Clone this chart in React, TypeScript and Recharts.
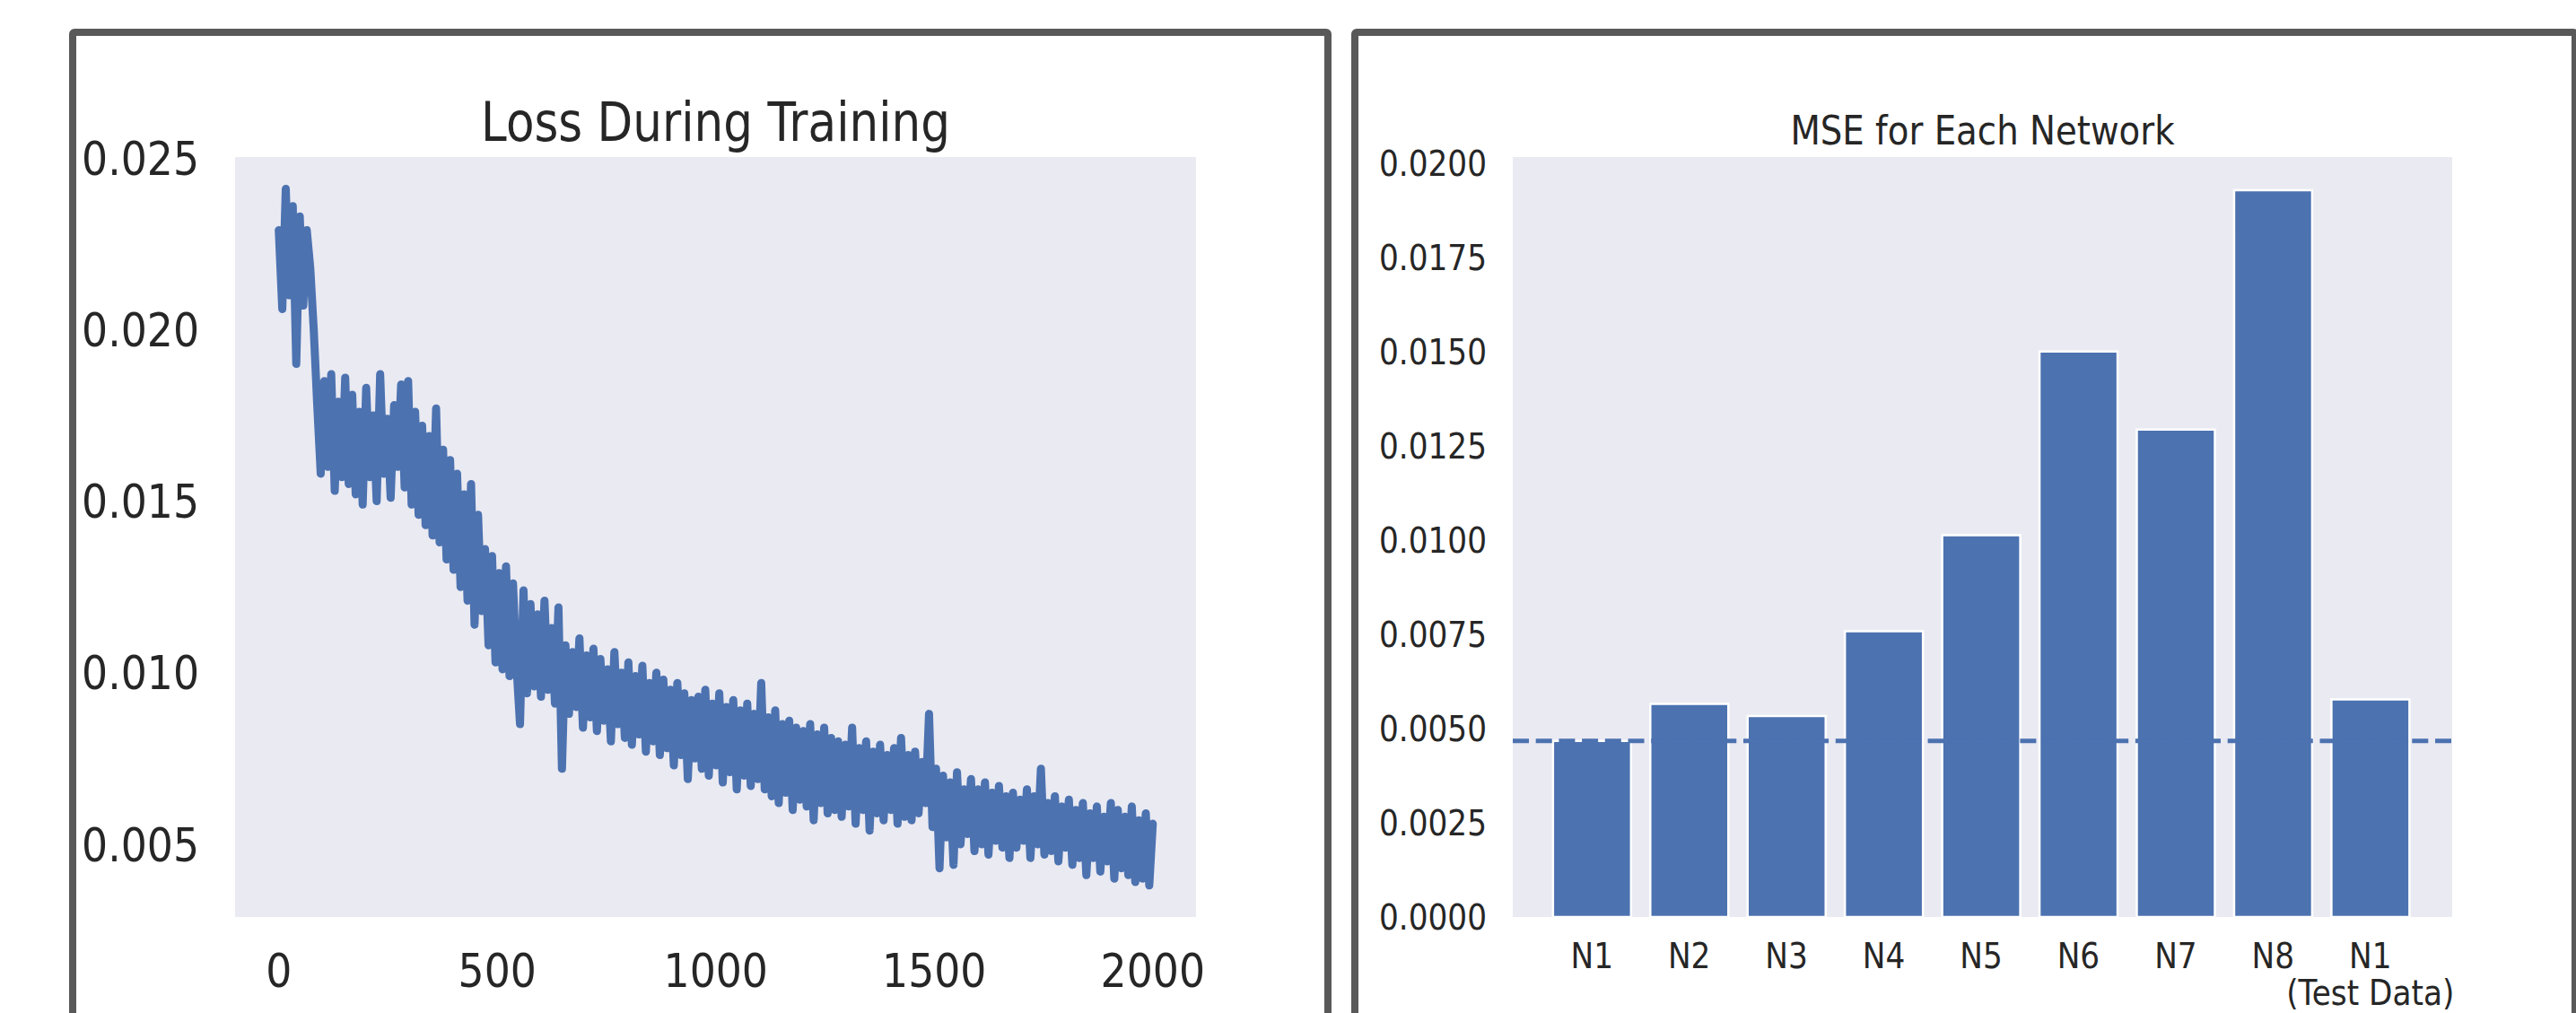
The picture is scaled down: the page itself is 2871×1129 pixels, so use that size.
import {
  LineChart,
  Line,
  BarChart,
  Bar,
  XAxis,
  YAxis,
  CartesianGrid,
  ReferenceLine,
} from "recharts";

// training loss, one value every LOSS_STEP iterations
const LOSS_STEP = 8;
const lossValues = [
  0.0229, 0.0206, 0.0241, 0.021, 0.0236, 0.019, 0.0233, 0.0207, 0.0229, 0.0218,
  0.02, 0.0178, 0.0158, 0.0185, 0.016, 0.0187, 0.0153, 0.0179, 0.0157, 0.0186,
  0.0155, 0.0181, 0.0152, 0.0176, 0.0149, 0.0183, 0.0157, 0.0175, 0.015, 0.0187,
  0.0158, 0.0174, 0.0151, 0.0178, 0.016, 0.0184, 0.0154, 0.0185, 0.0149, 0.0176,
  0.0146, 0.0172, 0.0143, 0.0169, 0.014, 0.0177, 0.0138, 0.0165, 0.0133, 0.0162,
  0.013, 0.0158, 0.0125, 0.0152, 0.0121, 0.0155, 0.0114, 0.0146, 0.0118, 0.0136,
  0.0108, 0.0134, 0.0103, 0.0129, 0.0101, 0.0131, 0.0099, 0.0126, 0.0102, 0.0085,
  0.0124, 0.0094, 0.012, 0.0096, 0.0117, 0.0093, 0.0121, 0.0095, 0.0113, 0.0091,
  0.0119, 0.0072, 0.0108, 0.0088, 0.0106, 0.009, 0.011, 0.0084, 0.0105, 0.0087,
  0.0107, 0.0083, 0.0104, 0.0086, 0.0101, 0.008, 0.0106, 0.0085, 0.01, 0.0081,
  0.0103, 0.0079, 0.0099, 0.0082, 0.0102, 0.0077, 0.0097, 0.008, 0.01, 0.0076,
  0.0098, 0.0078, 0.0095, 0.0073, 0.0097, 0.0076, 0.0094, 0.0069, 0.0092, 0.0075,
  0.0093, 0.0072, 0.0095, 0.007, 0.0091, 0.0073, 0.0094, 0.0068, 0.009, 0.0071,
  0.0092, 0.0066, 0.0089, 0.007, 0.0091, 0.0067, 0.0088, 0.0069, 0.0097, 0.0066,
  0.0087, 0.0064, 0.0089, 0.0062, 0.0085, 0.0065, 0.0086, 0.006, 0.0084, 0.0063,
  0.0083, 0.0061, 0.0085, 0.0057, 0.0082, 0.0062, 0.0084, 0.0059, 0.0081, 0.006,
  0.008, 0.0058, 0.0079, 0.0061, 0.0084, 0.0056, 0.0078, 0.006, 0.008, 0.0054,
  0.0077, 0.0059, 0.0079, 0.0057, 0.0076, 0.006, 0.0078, 0.0056, 0.0081, 0.0058,
  0.0076, 0.0057, 0.0077, 0.0059, 0.0074, 0.0062, 0.0088, 0.0055, 0.0072, 0.0043,
  0.007, 0.0052, 0.0068, 0.0044, 0.0071, 0.005, 0.0066, 0.0053, 0.0069, 0.0048,
  0.0066, 0.005, 0.0068, 0.0047, 0.0065, 0.0051, 0.0067, 0.0049, 0.0064, 0.0046,
  0.0065, 0.0049, 0.0063, 0.0051, 0.0066, 0.0046, 0.0064, 0.005, 0.0072, 0.0047,
  0.0062, 0.0048, 0.0064, 0.0045, 0.0061, 0.0049, 0.0063, 0.0044, 0.006, 0.0046,
  0.0062, 0.0041, 0.0059, 0.0046, 0.0061, 0.0042, 0.0058, 0.0045, 0.0062, 0.004,
  0.006, 0.0043, 0.0058, 0.0041, 0.0061, 0.0039, 0.0057, 0.004, 0.0059, 0.0038,
  0.0056,
];
const lossTicksX = [0, 500, 1000, 1500, 2000];
const lossTicksY = [0.005, 0.01, 0.015, 0.02, 0.025];

const networks = ["N1", "N2", "N3", "N4", "N5", "N6", "N7", "N8", "N1\n(Test Data)"];
const mseValues = [0.00467, 0.00565, 0.00533, 0.00758, 0.01013, 0.015, 0.01293, 0.01928, 0.00577];
const mseTicksY = [0, 0.0025, 0.005, 0.0075, 0.01, 0.0125, 0.015, 0.0175, 0.02];
const mseBaseline = 0.00467;

const BLUE = "#4C72B0";
const PLOT_BG = "#EAEAF2";
const TEXT = "#262626";
const FONT = "'DejaVu Sans', sans-serif";
const SQUEEZE = 0.88;

const lossData = lossValues.map((v, i) => ({ step: i * LOSS_STEP, loss: v }));
const mseData = networks.map((n, i) => ({ name: n, mse: mseValues[i] }));

function YTick(props: any) {
  const { y, payload, right, size, digits } = props;
  return (
    <text
      transform={`translate(${right},${y}) scale(${SQUEEZE},1)`}
      textAnchor="end"
      dy="0.36em"
      fontSize={size}
      fontFamily={FONT}
      fill={TEXT}
    >
      {Number(payload.value).toFixed(digits)}
    </text>
  );
}

function LossXTick(props: any) {
  const { x, payload } = props;
  return (
    <text
      transform={`translate(${x},1100) scale(${SQUEEZE},1)`}
      textAnchor="middle"
      fontSize={52}
      fontFamily={FONT}
      fill={TEXT}
    >
      {payload.value}
    </text>
  );
}

function NetTick(props: any) {
  const { x, payload } = props;
  const lines = String(payload.value).split("\n");
  return (
    <g>
      {lines.map((line, i) => (
        <text
          key={i}
          transform={`translate(${x},${1079 + i * 41}) scale(${SQUEEZE},1)`}
          textAnchor="middle"
          fontSize={39}
          fontFamily={FONT}
          fill={TEXT}
        >
          {line}
        </text>
      ))}
    </g>
  );
}

const panel = (left: number, width: number): React.CSSProperties => ({
  position: "absolute",
  left,
  top: 32,
  width,
  height: 1200,
  boxSizing: "border-box",
  border: "8px solid #595959",
  borderRadius: 6,
});

export default function App() {
  return (
    <div
      style={{
        position: "absolute",
        left: 0,
        top: 0,
        width: 2871,
        height: 1129,
        overflow: "hidden",
        background: "#fff",
      }}
    >
      <div style={panel(77, 1407)} />
      <div style={panel(1506, 1368)} />

      <div style={{ position: "absolute", left: 0, top: 0 }}>
        <LineChart
          width={1495}
          height={1129}
          data={lossData}
          margin={{ top: 175, right: 162, bottom: 7, left: 82 }}
        >
          <CartesianGrid horizontal={false} vertical={false} fill={PLOT_BG} />
          <XAxis
            type="number"
            dataKey="step"
            domain={[-100, 2099]}
            ticks={lossTicksX}
            allowDataOverflow
            height={100}
            axisLine={false}
            tickLine={false}
            tick={LossXTick}
          />
          <YAxis
            type="number"
            domain={[0.00288, 0.02503]}
            ticks={lossTicksY}
            allowDataOverflow
            width={180}
            axisLine={false}
            tickLine={false}
            tick={(p: any) => <YTick {...p} right={222} size={52} digits={3} />}
          />
          <Line
            type="linear"
            dataKey="loss"
            stroke={BLUE}
            strokeWidth={9}
            strokeLinejoin="round"
            strokeLinecap="round"
            dot={false}
            isAnimationActive={false}
          />
        </LineChart>
      </div>

      <div style={{ position: "absolute", left: 1495, top: 0 }}>
        <BarChart
          width={1376}
          height={1129}
          data={mseData}
          margin={{ top: 175, right: 138, bottom: 7, left: 41 }}
          barCategoryGap="10%"
        >
          <CartesianGrid horizontal={false} vertical={false} fill={PLOT_BG} />
          <XAxis
            dataKey="name"
            interval={0}
            padding={{ left: 34, right: 37 }}
            height={100}
            axisLine={false}
            tickLine={false}
            tick={NetTick}
          />
          <YAxis
            type="number"
            domain={[0, 0.02016]}
            ticks={mseTicksY}
            allowDataOverflow
            width={150}
            axisLine={false}
            tickLine={false}
            tick={(p: any) => <YTick {...p} right={162} size={39} digits={4} />}
          />
          <Bar
            dataKey="mse"
            fill={BLUE}
            stroke="#fff"
            strokeWidth={2.5}
            isAnimationActive={false}
          />
          <ReferenceLine
            y={mseBaseline}
            stroke={BLUE}
            strokeWidth={5}
            strokeDasharray="18 7.7"
          />
        </BarChart>
      </div>

      <svg
        width={2871}
        height={1129}
        style={{ position: "absolute", left: 0, top: 0, pointerEvents: "none" }}
      >
        <text
          transform="translate(797.5,157) scale(0.86,1)"
          textAnchor="middle"
          fontSize={60}
          fontFamily={FONT}
          fill={TEXT}
        >
          Loss During Training
        </text>
        <text
          transform={`translate(2209.5,161) scale(${SQUEEZE},1)`}
          textAnchor="middle"
          fontSize={44}
          fontFamily={FONT}
          fill={TEXT}
        >
          MSE for Each Network
        </text>
      </svg>
    </div>
  );
}
